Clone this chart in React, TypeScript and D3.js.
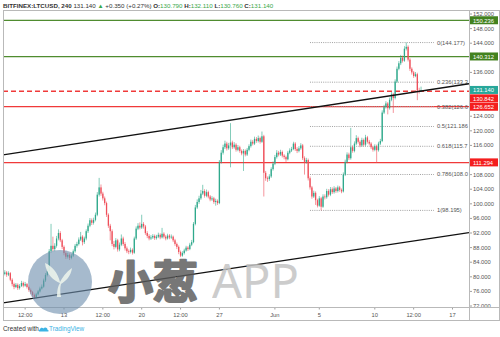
import React from "react";
import * as d3 from "d3";

const WIDTH = 500;
const HEIGHT = 337;
const FONT = "'Liberation Sans', Arial, sans-serif";

// ---------- header ----------
const symbolLabel = "BITFINEX:LTCUSD, 240";
const changeAbs = "+0.350";
const changePct = "(+0.27%)";

// ---------- candles (4h, day-of-May units; 32 = Jun 1) ----------
const firstCandleDay = 7 + 16 / 24;
const candleStepDays = 4 / 24;
const firstOpen = 80.8;
const closes = [
  81.2, 80.6, 81.0, 79.2, 78.0, 77.2, 77.8, 76.9, 77.5, 78.3, 77.6, 78.0, 77.2, 76.4, 75.8, 75.0, 74.4, 75.2, 76.0, 76.8,
  77.3, 79.0, 80.5, 81.6, 87.0, 88.5, 87.6, 88.5, 90.5, 92.0, 90.0, 88.2, 86.5, 85.5, 86.0, 85.2, 85.8, 87.0, 88.5, 89.0,
  90.2, 91.0, 89.5, 90.5, 92.5, 94.0, 95.5, 94.8, 95.6, 97.0, 102.5, 104.5, 102.8, 101.5, 100.2, 97.0, 94.0, 92.5, 89.0, 88.2,
  90.0, 87.5, 88.8, 90.5, 89.0, 87.8, 87.0, 86.8, 87.4, 86.6, 90.5, 93.2, 94.0, 93.5, 94.5, 93.8, 92.0, 91.2, 90.5, 90.8,
  91.2, 90.6, 91.0, 91.5, 90.8, 91.8, 91.0, 90.5, 91.3, 90.8, 91.0, 90.0, 89.0, 88.2, 86.8, 85.8, 86.5, 87.2, 88.0, 87.6,
  88.8, 89.5, 94.5, 99.0, 100.5, 101.5, 102.8, 103.5, 102.2, 103.2, 102.0, 101.2, 101.5, 100.5, 100.8, 100.2, 111.5, 114.0, 115.5, 116.5,
  115.2, 116.0, 116.8, 115.5, 116.2, 114.8, 115.5, 114.5, 113.8, 114.5, 113.5, 114.8, 115.8, 117.0, 116.5, 117.8, 117.2, 118.0, 117.0, 118.5,
  108.5, 107.0, 106.8, 107.5, 109.5, 111.0, 112.8, 114.0, 113.5, 114.2, 113.2, 112.8, 112.2, 114.0, 114.6, 115.0, 116.5, 115.0, 114.5, 115.2,
  116.0, 112.5, 111.5, 112.0, 107.0, 104.5, 102.0, 103.0, 101.0, 99.5, 101.5, 99.2, 102.0, 101.8, 103.5, 102.5, 104.0, 103.2, 104.2, 103.5,
  104.5, 103.8, 103.4, 108.0, 111.5, 113.5, 112.5, 115.5, 114.5, 116.5, 118.0, 117.0, 116.0, 117.5, 116.2, 118.2, 117.0, 116.5, 115.5, 114.8,
  115.8, 114.7, 116.5, 117.2, 125.0, 126.5, 127.5, 126.2, 128.5, 130.0, 129.0, 133.5, 137.0, 138.5, 140.0, 139.2, 142.5, 143.0, 139.5, 137.0,
  136.0, 135.0, 135.5, 131.0, 130.79, 131.14,
];
const highs = [
  81.8, 81.6, 81.5, 81.3, 79.6, 78.4, 78.3, 78.2, 78.0, 78.9, 78.7, 78.6, 78.3, 77.6, 76.8, 76.1, 75.4, 75.6, 76.4, 77.3,
  77.9, 79.5, 81.0, 82.3, 87.6, 94.5, 91.0, 89.2, 91.2, 93.0, 92.5, 90.4, 88.6, 87.0, 86.6, 86.4, 86.3, 87.5, 89.0, 89.6,
  90.8, 92.3, 91.4, 91.0, 93.0, 94.6, 96.1, 96.0, 96.2, 97.6, 103.2, 107.1, 105.3, 103.3, 102.0, 100.6, 97.4, 94.5, 93.0, 89.8,
  90.6, 90.4, 89.4, 91.6, 91.0, 89.5, 88.3, 87.5, 88.0, 87.8, 91.0, 93.8, 94.7, 94.9, 97.0, 95.0, 94.2, 92.5, 91.7, 91.4,
  91.7, 91.6, 91.5, 92.1, 91.9, 93.4, 92.2, 91.4, 91.8, 91.7, 91.6, 91.3, 90.4, 89.4, 88.6, 87.2, 87.0, 87.7, 88.5, 88.4,
  89.3, 90.1, 95.0, 99.7, 101.2, 102.2, 103.8, 105.2, 104.0, 103.9, 103.6, 102.4, 102.1, 101.9, 101.4, 101.2, 112.0, 114.7, 116.2, 117.3,
  117.0, 116.7, 122.1, 117.3, 116.9, 116.6, 116.1, 115.9, 114.9, 115.0, 114.9, 115.3, 116.3, 117.6, 117.5, 118.4, 118.3, 118.7, 118.4, 119.8,
  118.9, 109.0, 107.5, 108.1, 110.0, 111.6, 113.4, 114.7, 114.5, 114.8, 114.6, 113.6, 113.2, 114.5, 115.2, 115.6, 117.0, 116.9, 115.5, 115.8,
  116.6, 116.4, 113.0, 112.6, 112.4, 107.5, 104.9, 103.6, 103.4, 101.4, 102.1, 101.9, 102.6, 102.6, 104.1, 104.0, 104.6, 104.5, 104.8, 104.6,
  105.0, 104.9, 104.2, 108.6, 112.1, 114.1, 114.0, 120.8, 116.0, 117.1, 118.8, 118.4, 117.4, 118.1, 117.9, 118.9, 118.6, 117.5, 116.9, 115.9,
  116.3, 116.2, 117.0, 117.8, 125.6, 127.1, 128.1, 127.9, 129.1, 130.6, 130.4, 134.1, 137.6, 139.1, 140.8, 140.6, 143.2, 144.177, 143.4, 139.9,
  137.4, 136.4, 136.1, 135.9, 131.8, 132.11,
];
const lows = [
  80.4, 80.0, 80.2, 78.8, 77.4, 76.6, 76.9, 76.4, 76.5, 77.2, 77.1, 77.3, 76.8, 75.9, 75.3, 74.5, 73.9, 74.1, 74.9, 75.7,
  76.5, 77.0, 78.6, 80.1, 81.3, 86.6, 87.0, 87.0, 88.0, 90.0, 89.5, 87.6, 85.9, 84.9, 85.0, 84.6, 84.8, 85.4, 86.6, 88.0,
  88.6, 89.8, 88.6, 89.0, 90.0, 92.0, 93.6, 94.2, 94.3, 95.2, 96.6, 102.0, 102.2, 100.9, 99.6, 96.4, 93.4, 90.0, 88.4, 87.5,
  87.8, 86.9, 87.0, 88.4, 88.5, 87.2, 86.5, 86.2, 86.4, 86.1, 86.3, 90.1, 92.8, 93.0, 93.1, 93.2, 91.5, 90.6, 90.0, 90.1,
  90.4, 90.1, 90.2, 90.6, 90.3, 90.5, 90.5, 90.0, 90.2, 90.3, 90.4, 89.5, 88.5, 87.6, 86.2, 85.4, 85.5, 86.1, 86.9, 87.1,
  87.3, 88.4, 89.2, 94.1, 98.6, 100.0, 101.1, 102.4, 101.7, 101.8, 101.5, 100.7, 100.8, 100.0, 99.5, 99.7, 99.9, 111.0, 113.5, 115.0,
  114.6, 114.8, 110.0, 115.0, 115.1, 114.3, 114.4, 114.0, 113.3, 109.0, 113.0, 113.1, 114.4, 115.4, 116.0, 116.1, 116.7, 116.8, 116.5, 116.7,
  102.0, 106.3, 106.0, 106.3, 107.1, 109.1, 110.6, 112.4, 113.0, 113.1, 112.7, 112.2, 111.5, 111.9, 113.6, 114.2, 114.7, 114.5, 113.9, 114.1,
  114.8, 112.0, 108.0, 111.0, 106.4, 103.9, 101.4, 101.6, 99.7, 99.0, 99.2, 98.195, 98.9, 101.2, 101.4, 102.0, 102.1, 102.7, 102.8, 103.0,
  103.1, 103.3, 102.9, 103.1, 107.6, 111.1, 112.0, 112.1, 114.0, 114.1, 116.1, 116.5, 115.5, 115.6, 115.7, 115.8, 116.5, 116.0, 115.0, 114.3,
  114.4, 111.2, 114.3, 116.1, 116.9, 124.6, 126.1, 124.5, 125.8, 128.1, 124.9, 128.6, 133.1, 136.6, 138.0, 138.7, 138.9, 142.0, 139.0, 136.4,
  135.4, 134.5, 134.7, 128.4, 130.2, 130.76,
];

// ---------- axes ----------
const dayDomain = [7.505, 49.486];
const priceDomain = [71.73, 153.1];
const priceTicks = [72, 76, 80, 84, 88, 92, 96, 100, 104, 108, 112, 116, 120, 124, 128, 132, 136, 140, 144, 148, 152];
const timeTickDays = [9.5, 13, 16.5, 20, 23.5, 27, 32, 36, 41, 44.5, 48];
const timeTickLabels = ["12:00", "13", "12:00", "20", "12:00", "27", "Jun", "5", "10", "12:00", "17"];

// ---------- drawings ----------
const levelPrices = [150.236, 140.312, 130.842, 126.652, 111.294];
const levelKinds = ["resistance", "resistance", "alert", "support", "support"];

const fibRatios = ["0", "0.236", "0.382", "0.5", "0.618", "0.786", "1"];
const fibPrices = [144.177, 133.325, 126.612, 121.186, 115.76, 108.035, 98.195];
const fibStartDay = 35.16;
const fibEndDay = 46.33;
const fibLabelDay = 46.6;
const fibLabelMaxChars = 11; // labels are cut by the price scale in the original

const trendDays = [7.505, 49.486];
const upperTrendPrices = [113.4, 132.9];
const lowerTrendPrices = [72.85, 92.1];

// ---------- styles ----------
const UP = "#2fa98c";
const DOWN = "#ef4f5a";
const GREEN_LINE = "#4f8c2f";
const GREEN_BOX = "#43821f";
const RED_LINE = "#f03a3a";
const RED_BOX = "#f41e1e";
const TEAL_BOX = "#27a79a";
const FRAME = "#b9b9b9";
const levelStyle: Record<string, { stroke: string; dash?: string; box: string }> = {
  resistance: { stroke: GREEN_LINE, box: GREEN_BOX },
  alert: { stroke: RED_LINE, dash: "5,3", box: RED_BOX },
  support: { stroke: RED_LINE, box: RED_BOX },
};

const P = { left: 3, right: 469, top: 10, bottom: 307, axisBottom: 320 };

export default function App() {
  const x = d3.scaleLinear().domain(dayDomain).range([P.left, P.right]);
  const y = d3.scaleLinear().domain(priceDomain).range([P.bottom, P.top]);
  const fmt = d3.format(".3f");

  const candles = closes.map((c, i) => {
    const o = i === 0 ? firstOpen : closes[i - 1];
    return { day: firstCandleDay + i * candleStepDays, o, h: highs[i], l: lows[i], c };
  });
  const last = candles[candles.length - 1];

  const trendLine = d3
    .line<[number, number]>()
    .x((d) => x(d[0]))
    .y((d) => y(d[1]));

  // right-axis labels with collision push-down
  const boxH = 8.4;
  const boxes = [
    ...levelPrices.map((p, i) => ({ price: p, fill: levelStyle[levelKinds[i]].box })),
    { price: last.c, fill: TEAL_BOX },
  ]
    .map((b) => ({ ...b, cy: y(b.price) }))
    .sort((a, b) => a.cy - b.cy);
  for (let i = 1; i < boxes.length; i++) {
    if (boxes[i].cy < boxes[i - 1].cy + boxH) boxes[i].cy = boxes[i - 1].cy + boxH;
  }
  const visibleTicks = priceTicks.filter((t) => boxes.every((b) => Math.abs(b.cy - y(t)) > 6.3));

  const bodyW = 1.3;

  return (
    <svg
      width={WIDTH}
      height={HEIGHT}
      style={{ position: "absolute", left: 0, top: 0, background: "#fff", fontFamily: FONT }}
    >
      <defs>
        <clipPath id="plotClip">
          <rect x={P.left} y={P.top} width={P.right - P.left} height={P.bottom - P.top} />
        </clipPath>
        <clipPath id="axisClip">
          <rect x={P.right} y={P.top} width={WIDTH - P.right} height={P.bottom - P.top} />
        </clipPath>
      </defs>
      <rect x={0} y={0} width={WIDTH} height={HEIGHT} fill="#fff" />

      {/* header */}
      <text x={3} y={7.6} fontSize={6.2} fill="#333">
        <tspan fontWeight="bold">{symbolLabel}</tspan>
        <tspan> {fmt(last.c)} </tspan>
        <tspan fill="#3aa84a">▲</tspan>
        <tspan> {changeAbs} {changePct} </tspan>
        <tspan fontWeight="bold">O:</tspan>
        <tspan fill="#3aa84a">{fmt(last.o)} </tspan>
        <tspan fontWeight="bold">H:</tspan>
        <tspan fill="#3aa84a">{fmt(last.h)} </tspan>
        <tspan fontWeight="bold">L:</tspan>
        <tspan fill="#3aa84a">{fmt(last.l)} </tspan>
        <tspan fontWeight="bold">C:</tspan>
        <tspan fill="#3aa84a">{fmt(last.c)}</tspan>
      </text>

      <g clipPath="url(#plotClip)">
        {/* horizontal levels */}
        {levelPrices.map((p, i) => {
          const st = levelStyle[levelKinds[i]];
          return (
            <line
              key={"lv" + i}
              x1={P.left}
              x2={P.right}
              y1={y(p)}
              y2={y(p)}
              stroke={st.stroke}
              strokeWidth={1.3}
              strokeDasharray={st.dash}
            />
          );
        })}

        {/* fibonacci */}
        {fibPrices.map((p, i) => (
          <g key={"fib" + i}>
            <line
              x1={x(fibStartDay)}
              x2={x(fibEndDay)}
              y1={y(p)}
              y2={y(p)}
              stroke="#a0a0a0"
              strokeWidth={1}
              strokeDasharray="1,1.2"
            />
            <text x={x(fibLabelDay)} y={y(p) + 2} fontSize={5.8} fill="#555">
              {`${fibRatios[i]}(${fmt(p)})`.slice(0, fibLabelMaxChars)}
            </text>
          </g>
        ))}

        {/* candles */}
        {candles.map((d, i) => {
          const col = d.c >= d.o ? UP : DOWN;
          const cx = x(d.day);
          const top = y(Math.max(d.o, d.c));
          const bot = y(Math.min(d.o, d.c));
          return (
            <g key={"c" + i}>
              <line x1={cx} x2={cx} y1={y(d.h)} y2={y(d.l)} stroke={col} strokeWidth={0.8} opacity={0.75} />
              <rect x={cx - bodyW / 2} y={top} width={bodyW} height={Math.max(0.8, bot - top)} fill={col} />
            </g>
          );
        })}

        {/* trend channel */}
        <path
          d={trendLine(trendDays.map((d, i) => [d, upperTrendPrices[i]]) as [number, number][]) || ""}
          stroke="#111"
          strokeWidth={1.3}
          fill="none"
        />
        <path
          d={trendLine(trendDays.map((d, i) => [d, lowerTrendPrices[i]]) as [number, number][]) || ""}
          stroke="#111"
          strokeWidth={1.3}
          fill="none"
        />
      </g>

      {/* price axis */}
      <g clipPath="url(#axisClip)">
        {visibleTicks.map((t) => (
          <g key={"pt" + t}>
            <line x1={P.right} x2={P.right + 3} y1={y(t)} y2={y(t)} stroke="#888" strokeWidth={0.8} />
            <text x={P.right + 4} y={y(t) + 2} fontSize={5.8} fill="#555">
              {fmt(t)}
            </text>
          </g>
        ))}
        {boxes.map((b, i) => (
          <g key={"bx" + i}>
            <rect x={P.right + 1} y={b.cy - boxH / 2} width={28} height={boxH - 0.4} fill={b.fill} />
            <text x={P.right + 4} y={b.cy + 2.1} fontSize={5.8} fill="#fff">
              {fmt(b.price)}
            </text>
          </g>
        ))}
      </g>

      {/* time axis */}
      {timeTickDays.map((d, i) => (
        <g key={"tt" + i}>
          <line x1={x(d)} x2={x(d)} y1={P.bottom} y2={P.bottom + 2.5} stroke="#888" strokeWidth={0.8} />
          <text x={x(d)} y={P.bottom + 9.5} fontSize={5.8} fill="#555" textAnchor="middle">
            {timeTickLabels[i]}
          </text>
        </g>
      ))}

      {/* frame */}
      <g stroke={FRAME} strokeWidth={1} fill="none" shapeRendering="crispEdges">
        <line x1={P.left} x2={WIDTH} y1={P.top} y2={P.top} />
        <line x1={P.left} x2={WIDTH} y1={P.bottom} y2={P.bottom} />
        <line x1={P.left} x2={WIDTH} y1={P.axisBottom} y2={P.axisBottom} />
        <line x1={P.left} x2={P.left} y1={P.top} y2={P.axisBottom} />
        <line x1={P.right} x2={P.right} y1={P.top} y2={P.axisBottom} />
        <line x1={WIDTH - 0.5} x2={WIDTH - 0.5} y1={P.top} y2={P.axisBottom} />
      </g>

      {/* watermark */}
      <g>
        <circle cx={60} cy={282} r={32} fill="#6f8fae" opacity={0.62} />
        <path
          d="M57,297 C57,290 58,286 60,283 C54,281 46,274 45,263 C52,266 58,273 60,282 C62,278 66,272 72,268 C71,276 66,281 61,284 C60,288 60,292 61,297 Z"
          fill="#eef6ec"
          opacity={0.85}
        />
        <text
          x={108}
          y={299}
          fontSize={45}
          fontWeight="bold"
          fill="#5a5a5a"
          stroke="#5a5a5a"
          strokeWidth={2.2}
          strokeLinejoin="round"
          opacity={0.82}
          fontFamily="'Noto Sans CJK SC', sans-serif"
        >
          小葱
        </text>
        <text x={212} y={298} fontSize={47} fill="#c4c4c4" opacity={0.85} fontFamily="'Noto Sans', sans-serif">
          APP
        </text>
      </g>

      {/* footer */}
      <text x={3} y={331} fontSize={6.4} fill="#333">
        Created with
      </text>
      <g transform="translate(38.5,326.5)">
        <path d="M1,5 C0,5 0,3 1.5,3 C1.5,1 4,0.5 5,2 C6,0 9.5,1 9,3.5 C10.5,3.5 10.5,5 9.5,5 Z" fill="#3bb3e4" />
      </g>
      <text x={49} y={331} fontSize={6.4} fill="#3bb3e4">
        TradingView
      </text>
    </svg>
  );
}
